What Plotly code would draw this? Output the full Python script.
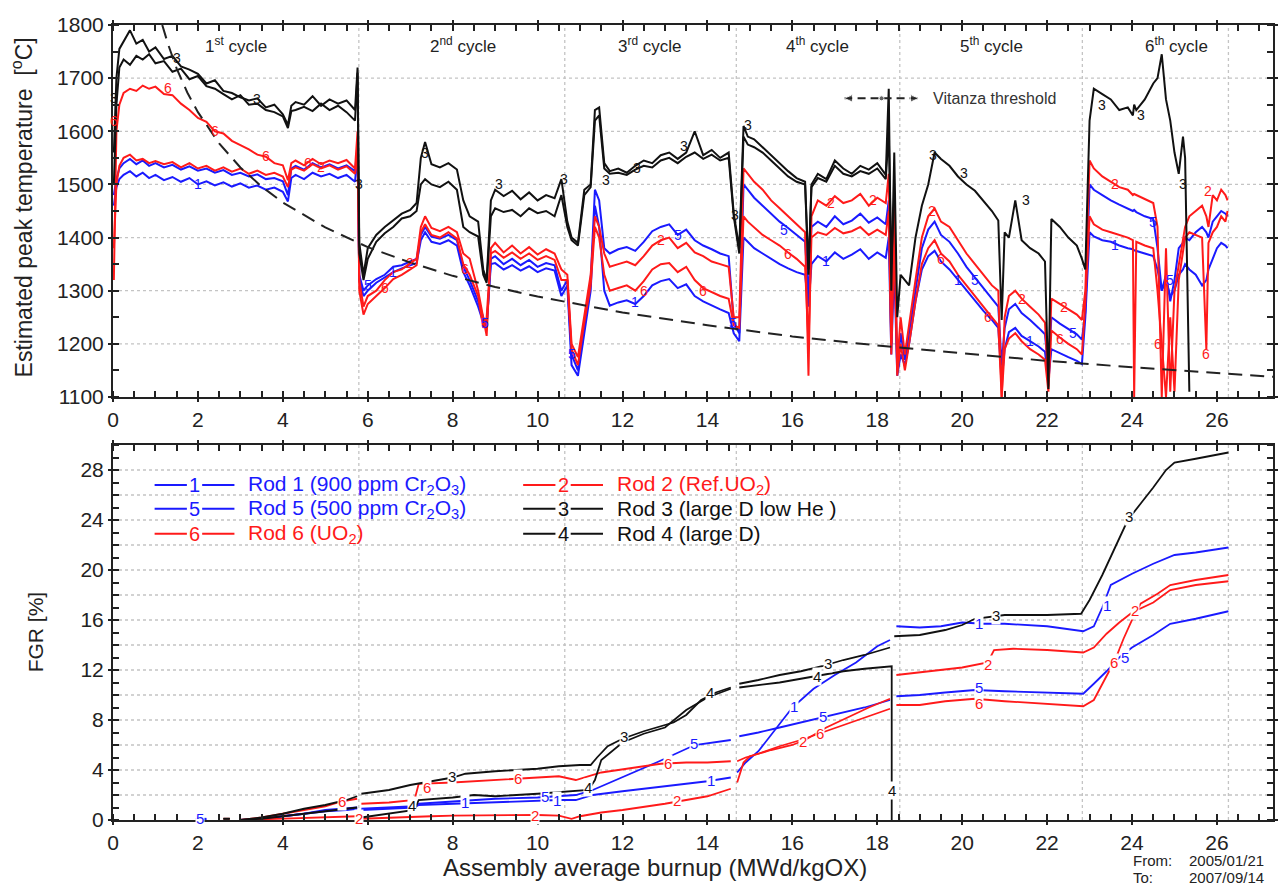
import plotly.graph_objects as go

BLUE = "#1a1aff"
RED = "#ff1a1a"
BLACK = "#111111"
FONT = "Liberation Sans, Arial, Helvetica, sans-serif"

# ---------------- top panel: estimated peak temperature ----------------
BU_TOP = [
    0.02, 0.08, 0.15, 0.25, 0.4, 0.55, 0.7, 0.85, 1.0, 1.2, 1.4, 1.6, 1.8, 2.0, 2.2, 2.4, 2.6, 2.8, 3.0, 3.2,
    3.4, 3.6, 3.8, 4.0, 4.12, 4.2, 4.3, 4.5, 4.7, 4.9, 5.1, 5.3, 5.5, 5.7, 5.76,
    5.8, 5.9, 6.0, 6.2, 6.4, 6.6, 6.8, 7.0, 7.15, 7.25, 7.35, 7.5, 7.7, 7.9, 8.1, 8.25, 8.4, 8.6, 8.72, 8.8,
    8.9, 9.0, 9.2, 9.4, 9.6, 9.8, 10.0, 10.2, 10.4, 10.56,
    10.7, 10.8, 10.95, 11.1, 11.25, 11.35, 11.45, 11.57, 11.7, 11.9, 12.1, 12.3, 12.5, 12.7, 12.9, 13.1,
    13.3, 13.5, 13.7, 13.9, 14.1, 14.3, 14.5, 14.62,
    14.75, 14.85, 14.95, 15.1, 15.3, 15.5, 15.7, 15.9, 16.1, 16.3, 16.38, 16.45, 16.6, 16.8, 17.0, 17.2,
    17.4, 17.6, 17.8, 18.0, 18.2, 18.27, 18.33, 18.4, 18.47, 18.55,
    18.65, 18.75, 18.9, 19.05, 19.2, 19.35, 19.5, 19.7, 19.9, 20.1, 20.3, 20.5, 20.7, 20.85, 20.93, 21.0,
    21.1, 21.25, 21.4, 21.6, 21.8, 21.95, 22.03, 22.1, 22.3, 22.5, 22.7, 22.82,
    22.9, 23.0, 23.1, 23.3, 23.5, 23.7, 23.9, 24.02, 24.05, 24.1, 24.3, 24.5, 24.6, 24.7, 24.8, 24.9,
    25.0, 25.1, 25.2, 25.25, 25.35, 25.5, 25.65, 25.75, 25.8, 25.9, 26.0, 26.1, 26.2, 26.25,
]

T_ROD3 = [
    1560, 1700, 1755, 1770, 1790, 1765, 1772, 1750, 1758, 1736, 1742, 1722, 1716, 1708, 1690, 1696, 1676, 1672, 1664, 1658,
    1662, 1645, 1650, 1632, 1612, 1648, 1655, 1650, 1666, 1648, 1660, 1652, 1658, 1640, 1720,
    1390, 1330, 1380, 1405, 1420, 1432, 1445, 1452, 1465, 1550, 1580, 1538, 1532, 1540, 1528, 1470, 1440, 1430, 1340, 1320,
    1470, 1490, 1478, 1488, 1472, 1485, 1470, 1480, 1474, 1510,
    1430, 1400, 1390, 1490, 1500, 1640, 1645, 1540, 1525, 1530, 1522, 1535, 1545, 1540, 1555, 1560,
    1548, 1560, 1600, 1555, 1565, 1550, 1560, 1445,
    1380, 1610, 1590, 1585, 1570, 1555, 1540, 1525, 1512, 1505, 1340, 1500, 1520, 1510, 1545, 1530,
    1520, 1535, 1528, 1540, 1518, 1680, 1300, 1560, 1250, 1330,
    1320, 1310, 1400, 1460, 1500, 1560, 1548, 1535, 1515, 1500, 1488, 1470, 1450, 1432, 1245, 1410,
    1400, 1470, 1395, 1380, 1370, 1355, 1115, 1435, 1420, 1400, 1385, 1360,
    1340, 1620, 1680, 1670, 1660, 1640, 1645, 1630, 1650, 1640, 1660, 1690, 1700, 1745, 1660, 1620,
    1560, 1520, 1590, 1550, 1110, None, None, None, None, None, None, None, None, None,
]

T_ROD4 = [
    1500, 1650, 1720, 1735, 1725, 1742, 1735, 1745, 1728, 1732, 1712, 1718, 1698, 1704, 1685, 1680, 1670, 1660, 1668, 1650,
    1652, 1640, 1636, 1628, 1606, 1638, 1640, 1646, 1638, 1652, 1640, 1648, 1636, 1620, 1710,
    1370, 1320, 1360, 1392, 1408, 1420, 1436, 1440, 1450, 1500, 1510, 1500, 1495, 1505, 1490, 1420, 1410, 1402, 1330, 1315,
    1440, 1455, 1448, 1452, 1440, 1455, 1446, 1450, 1440, 1480,
    1420, 1395, 1385, 1480, 1495, 1620, 1630, 1530, 1520, 1522, 1518, 1528, 1535, 1532, 1545, 1550,
    1540, 1552, 1560, 1548, 1556, 1545, 1550, 1440,
    1370, 1590, 1575, 1570, 1560, 1545, 1530, 1515, 1505, 1500, 1330, 1495, 1512, 1505, 1535, 1520,
    1515, 1525, 1520, 1530, 1510, 1600, 1350, 1480, None, None,
    None, None, None, None, None, None, None, None, None, None, None, None, None, None, None, None,
    None, None, None, None, None, None, None, None, None, None, None, None,
    None, None, None, None, None, None, None, None, None, None, None, None, None, None, None, None,
    None, None, None, None, None, None, None, None, None, None, None, None, None, None,
]

T_ROD2 = [
    1380, 1500, 1535, 1550, 1556, 1545, 1548, 1540, 1544, 1538, 1542, 1532, 1540, 1530, 1535, 1526, 1532, 1524, 1530, 1520,
    1526, 1518, 1522, 1515, 1495, 1528, 1532, 1526, 1538, 1530, 1536, 1528, 1534, 1520, 1560,
    1320, 1270, 1290, 1300, 1320, 1335, 1340, 1352, 1360, 1420, 1440, 1418, 1412, 1420, 1410, 1370, 1360, 1300, 1250, 1215,
    1380, 1390, 1372, 1385, 1370, 1382, 1368, 1378, 1370, 1340,
    1330, 1200, 1175, 1250, 1330, 1440, 1420, 1370, 1345, 1350, 1355, 1348, 1365, 1385, 1395, 1400,
    1380, 1390, 1372, 1365, 1355, 1350, 1345, 1250,
    1250, 1530, 1520, 1505, 1490, 1470, 1455, 1440, 1425, 1410, 1140, 1440, 1470, 1460, 1478, 1465,
    1470, 1482, 1460, 1475, 1465, 1520, 1200, 1480, 1160, 1250,
    1180, 1240, 1320, 1400, 1440, 1455, 1430, 1420, 1395, 1370, 1350, 1330, 1310, 1300, 1100, 1250,
    1290, 1300, 1285, 1270, 1255, 1240, 1120, 1285, 1275, 1265, 1255, 1245,
    1300, 1545, 1530, 1515, 1505, 1495, 1490, 1480, 1482, 1480, 1472, 1465, 1420, 1100, 1380, 1110,
    1300, 1350, 1400, 1420, 1440, 1450, 1460, 1440, 1420, 1480, 1470, 1490, 1480, 1470,
]

T_ROD6 = [
    1320, 1600, 1650, 1672, 1680, 1676, 1686, 1680, 1684, 1670, 1668, 1652, 1640, 1625, 1618, 1600, 1596, 1582, 1574, 1566,
    1556, 1552, 1540, 1536, 1508, 1540, 1545, 1536, 1548, 1538, 1545, 1540, 1546, 1530, 1600,
    1300, 1255, 1275, 1290, 1305, 1322, 1330, 1340, 1348, 1410, 1425, 1405, 1400, 1410, 1398, 1350, 1330, 1290, 1230, 1250,
    1370, 1375, 1362, 1372, 1360, 1370, 1358, 1365, 1358, 1320,
    1320, 1190, 1160, 1240, 1310, 1420, 1400, 1330, 1300, 1305, 1310, 1300, 1318, 1340, 1350, 1352,
    1335, 1345, 1320, 1305, 1298, 1290, 1285, 1235,
    1230, 1440, 1430, 1420, 1405, 1395, 1385, 1372, 1360, 1345, 1200, 1400, 1410, 1405, 1418, 1408,
    1412, 1420, 1405, 1415, 1405, 1450, 1180, 1400, 1140, 1200,
    1150, 1200, 1280, 1350, 1380, 1395, 1370, 1355, 1330, 1310, 1290, 1270, 1250, 1235, 1100, 1190,
    1210, 1220, 1205, 1190, 1180, 1170, 1110, 1225, 1212, 1200, 1190, 1180,
    1280, 1440, 1425, 1415, 1410, 1405, 1400, 1395, 1100, 1392, 1385, 1380, 1300, 1200, 1100, 1250,
    1110, 1320, 1380, 1400, 1410, 1405, 1400, 1190, 1390, 1410, 1420, 1440, 1430, 1450,
]

T_ROD5 = [
    1480, 1510, 1530, 1540, 1548, 1538, 1545, 1535, 1540, 1532, 1537, 1528, 1534, 1526, 1530, 1522, 1527, 1518, 1522, 1515,
    1519, 1510, 1512, 1506, 1480, 1530, 1535, 1528, 1540, 1532, 1538, 1530, 1536, 1525, 1570,
    1330, 1300, 1310, 1322, 1330, 1345, 1348, 1355, 1360, 1405, 1420, 1402, 1398, 1405, 1395, 1345, 1320, 1280, 1250, 1230,
    1360, 1365, 1350, 1360, 1348, 1358, 1345, 1352, 1348, 1300,
    1320, 1180, 1150, 1230, 1320, 1490, 1470, 1380, 1370, 1378, 1382, 1375, 1392, 1412, 1420, 1425,
    1405, 1415, 1395, 1385, 1378, 1370, 1365, 1240,
    1220, 1500, 1490, 1475, 1460, 1445, 1430, 1418, 1405, 1392, 1290, 1420, 1430, 1420, 1440, 1425,
    1432, 1445, 1428, 1438, 1425, 1470, 1200, 1420, 1150, 1220,
    1170, 1220, 1300, 1380, 1415, 1430, 1405, 1392, 1370, 1345, 1325, 1305, 1285, 1270, 1160, 1230,
    1265, 1275, 1258, 1245, 1230, 1218, 1150, 1250, 1238, 1228, 1218, 1208,
    1260, 1500, 1490, 1480, 1470, 1462, 1455, 1450, 1452, 1448, 1440, 1435, 1380, 1300, 1330, 1280,
    1320, 1380, 1390, 1400, 1395, 1410, 1420, 1410, 1400, 1430, 1440, 1450, 1445, 1440,
]

T_ROD1 = [
    1460, 1495, 1510, 1518, 1525, 1515, 1522, 1512, 1518, 1508, 1514, 1505, 1512, 1500, 1506, 1498, 1504, 1496, 1502, 1494,
    1498, 1490, 1494, 1486, 1468, 1512, 1518, 1510, 1522, 1515, 1520, 1512, 1518, 1505, 1560,
    1320, 1290, 1300, 1315, 1325, 1335, 1342, 1348, 1352, 1395, 1410, 1392, 1388, 1395, 1385, 1335, 1310, 1270, 1240, 1235,
    1350, 1352, 1340, 1348, 1338, 1346, 1335, 1342, 1338, 1290,
    1310, 1160, 1140, 1220, 1300, 1460, 1420, 1300, 1272, 1278, 1282, 1275, 1290, 1310, 1318, 1322,
    1305, 1312, 1290, 1280, 1272, 1265, 1258, 1220,
    1205, 1400, 1392, 1380, 1370, 1360, 1350, 1342, 1335, 1330, 1270, 1350, 1365, 1355, 1372, 1360,
    1368, 1378, 1360, 1372, 1362, 1400, 1180, 1350, 1140, 1180,
    1160, 1200, 1280, 1340, 1365, 1375, 1355, 1340, 1320, 1300, 1280, 1262, 1245, 1230, 1130, 1190,
    1222, 1230, 1215, 1205, 1195, 1185, 1130, 1190, 1182, 1175, 1168, 1162,
    1250, 1410, 1402, 1395, 1392, 1385, 1380, 1378, 1376, 1375, 1370, 1365, 1340, 1300, 1320, 1290,
    1300, 1330, 1340, 1350, 1340, 1330, 1310, 1320, 1340, 1360, 1380, 1390, 1385, 1380,
]

# Vitanza threshold (dashed curve)
VIT_BU = [1.16, 1.3, 1.5, 1.75, 2.0, 2.5, 3.0, 3.5, 4.0, 5.0, 6.0, 7.0, 8.0, 9.0, 10.0,
          12.0, 14.0, 16.0, 18.0, 20.0, 22.0, 24.0, 26.0, 27.32]
VIT_T = [1800, 1763, 1718, 1673, 1636, 1577, 1532, 1496, 1466, 1419, 1382, 1353, 1328, 1307, 1289,
         1259, 1235, 1214, 1197, 1182, 1168, 1156, 1145, 1138]

CYCLE_ENDS = [5.79, 10.64, 14.68, 18.53, 22.83, 26.27]
CYCLE_LABELS = ["1<sup>st</sup> cycle", "2<sup>nd</sup> cycle", "3<sup>rd</sup> cycle",
                "4<sup>th</sup> cycle", "5<sup>th</sup> cycle", "6<sup>th</sup> cycle"]
CYCLE_LABEL_X = [2.9, 8.25, 12.65, 16.6, 20.7, 25.05]

# ---------------- bottom panel: fission gas release ----------------
FGR_BU1 = [2.0, 2.2, None, 3.0, 3.5, 4.0, 4.5, 5.0, 5.5, 5.75, None, 5.85, 6.5, 7.1, 7.2, 8.0, 9.0, 10.0, 10.5, 10.9,
           11.3, 12.0, 13.0, 14.0, 14.55, None, 14.7, 14.9, 15.2, 15.5, 16.0, 16.5, 17.0, 17.5, 18.0, 18.3, None,
           18.45, 19.0, 19.5, 20.0, 20.5, 21.0, 22.0, 22.5, 22.85, 23.1, 23.3, 23.5, 24.0, 24.5, 25.0, 25.5, 26.27]
FGR_1 = [0.05, 0.05, None, 0.0, 0.1, 0.3, 0.5, 0.7, 0.8, 0.9, None, 0.8, 0.9, 1.0, 1.2, 1.3, 1.4, 1.5, 1.6, 1.6,
         2.0, 2.3, 2.7, 3.1, 3.4, None, 3.8, 4.6, 5.5, 6.8, 9.0, 10.5, 11.6, 12.6, 13.9, 14.4, None,
         15.5, 15.4, 15.5, 15.8, 15.7, 15.7, 15.5, 15.3, 15.1, 15.5, 17.0, 18.8, 19.7, 20.5, 21.2, 21.4, 21.8]

FGR_BU5 = [1.95, 2.2, None, 3.0, 3.5, 4.0, 4.5, 5.0, 5.5, 5.75, None, 5.85, 6.5, 7.1, 7.2, 8.0, 9.0, 10.0, 10.5, 10.9,
           11.3, 12.0, 12.8, 13.7, 14.2, 14.55, None, 14.75, 15.2, 15.7, 16.2, 16.7, 17.2, 17.7, 18.3, None,
           18.45, 19.0, 19.6, 20.3, 21.0, 22.0, 22.85, 23.1, 23.4, 23.7, 24.0, 24.5, 24.9, 25.5, 26.27]
FGR_5 = [0.1, 0.1, None, 0.0, 0.1, 0.3, 0.5, 0.8, 0.9, 1.0, None, 0.9, 1.0, 1.1, 1.3, 1.5, 1.7, 1.8, 1.9, 2.0,
         2.4, 3.4, 4.6, 6.0, 6.2, 6.4, None, 6.7, 7.0, 7.4, 7.8, 8.2, 8.6, 9.0, 9.6, None,
         9.9, 10.0, 10.2, 10.4, 10.3, 10.2, 10.1, 10.9, 11.9, 13.0, 13.8, 14.8, 15.7, 16.1, 16.7]

FGR_BU2 = [2.6, 2.75, None, 3.0, 3.5, 4.0, 4.5, 5.0, 5.5, 5.75, None, 5.85, 6.5, 7.0, 7.5, 8.0, 9.0, 10.0, 10.5, 10.8,
           11.0, 11.5, 12.0, 13.0, 14.0, 14.55, None, 14.7, 14.85, 15.0, 15.5, 16.0, 16.3, 16.8, 17.3, 17.8, 18.3, None,
           18.45, 19.0, 19.5, 20.0, 20.6, 20.75, 21.2, 22.0, 22.85, 23.1, 23.4, 23.7, 24.0, 24.5, 24.9, 25.5, 26.27]
FGR_2 = [0.1, 0.1, None, 0.0, 0.05, 0.1, 0.15, 0.2, 0.25, 0.3, None, 0.1, 0.2, 0.25, 0.3, 0.35, 0.4, 0.4, 0.35, 0.1,
         0.3, 0.6, 0.8, 1.3, 1.9, 2.5, None, 3.0, 4.6, 5.1, 5.6, 6.0, 6.4, 7.4, 8.2, 9.0, 9.7, None,
         11.6, 11.8, 12.0, 12.2, 12.6, 13.6, 13.7, 13.6, 13.4, 13.8, 14.9, 15.8, 16.6, 17.4, 18.4, 18.8, 19.1]

FGR_BU6 = [3.0, 3.5, 4.0, 4.5, 5.0, 5.4, 5.75, None, 5.85, 6.5, 7.1, 7.2, 8.0, 9.0, 10.0, 10.5, 10.9, 11.5, 12.3,
           12.9, 13.5, 14.0, 14.55, None, 14.7, 14.9, 15.2, 15.7, 16.2, 16.7, 17.2, 17.8, 18.3, None,
           18.45, 19.0, 19.6, 20.3, 21.0, 22.0, 22.85, 23.1, 23.4, 23.6, 23.8, 24.0, 24.2, 24.6, 24.9, 25.5, 26.27]
FGR_6 = [0.0, 0.2, 0.5, 0.8, 1.1, 1.5, 1.7, None, 1.3, 1.4, 1.6, 2.9, 3.0, 3.2, 3.4, 3.5, 3.2, 3.8, 4.2,
         4.5, 4.6, 4.6, 4.7, None, 4.7, 5.0, 5.3, 5.9, 6.4, 7.0, 7.6, 8.3, 8.9, None,
         9.2, 9.2, 9.5, 9.7, 9.5, 9.3, 9.1, 9.6, 11.5, 12.8, 14.5, 16.0, 17.3, 18.1, 18.8, 19.2, 19.6]

FGR_BU3 = [2.6, 2.75, None, 3.0, 3.5, 4.0, 4.5, 5.0, 5.5, 5.75, None, 5.85, 6.5, 7.0, 7.5, 8.0, 8.3, 9.0, 10.0, 10.5,
           11.0, 11.25, 11.4, 11.65, 12.0, 12.5, 13.2, 13.5, 13.85, 14.2, 14.55, None, 14.75, 15.2, 15.7, 16.2, 16.7,
           17.2, 17.7, 18.3, None, 18.4, 19.0, 19.6, 20.0, 20.3, 21.0, 22.0, 22.8, 23.0, 23.3, 23.6, 23.9, 24.2,
           24.5, 24.8, 25.0, 25.5, 26.27]
FGR_3 = [0.1, 0.1, None, 0.0, 0.2, 0.5, 0.9, 1.2, 1.6, 1.9, None, 2.1, 2.4, 2.8, 3.1, 3.4, 3.7, 3.9, 4.1, 4.3,
         4.4, 4.4, 5.0, 5.9, 6.5, 7.1, 7.8, 8.4, 9.6, 10.2, 10.6, None, 10.9, 11.2, 11.6, 11.9, 12.3,
         12.8, 13.2, 13.8, None, 14.7, 14.8, 15.2, 15.6, 16.1, 16.4, 16.4, 16.5, 17.6, 19.6, 21.8, 24.0, 25.3,
         26.6, 28.0, 28.6, 28.9, 29.4]

FGR_BU4 = [2.6, 2.75, None, 3.0, 3.5, 4.0, 4.5, 5.0, 5.5, 5.75, None, 5.85, 6.5, 7.1, 7.2, 8.0, 8.5, 9.0, 10.0, 10.5,
           11.0, 11.2, 11.35, 11.5, 12.0, 12.5, 13.0, 13.5, 14.0, 14.55, None, 14.75, 15.2, 15.7, 16.2, 16.7,
           17.2, 17.7, 18.3, 18.34, 18.34]
FGR_4 = [0.1, 0.1, None, 0.0, 0.1, 0.3, 0.5, 0.7, 0.9, 1.0, None, 0.2, 0.5, 0.8, 1.6, 1.8, 2.0, 1.9, 2.1, 2.2,
         2.3, 2.4, 3.2, 4.8, 6.2, 6.9, 7.4, 8.8, 9.8, 10.5, None, 10.6, 10.8, 11.0, 11.3, 11.6,
         11.9, 12.1, 12.3, 12.3, 0.0]

# curve number labels (burnup, value)
TOP_LABELS = {
    "3": [(0.03, 1662), (1.5, 1738), (3.4, 1660), (5.8, 1500), (7.35, 1560), (9.1, 1500), (10.62, 1510),
          (11.62, 1508), (12.35, 1530), (13.45, 1572), (14.65, 1442), (14.95, 1612), (19.32, 1556),
          (20.05, 1521), (21.5, 1470), (23.3, 1650), (24.2, 1630), (25.2, 1500)],
    "6": [(0.03, 1620), (1.3, 1682), (2.4, 1600), (3.6, 1553), (4.6, 1540), (6.4, 1305), (8.3, 1340),
          (12.5, 1300), (13.9, 1300), (15.9, 1370), (19.5, 1360), (20.6, 1250), (22.3, 1210), (24.6, 1200),
          (25.75, 1180)],
    "2": [(4.9, 1532), (7.0, 1352), (12.9, 1395), (16.9, 1465), (17.9, 1470), (19.3, 1450), (21.4, 1285),
          (22.4, 1270), (23.6, 1500), (25.8, 1488)],
    "5": [(6.0, 1310), (8.75, 1240), (10.8, 1180), (13.3, 1405), (14.6, 1240), (15.8, 1415), (20.3, 1320),
          (22.6, 1220), (24.5, 1430), (24.9, 1320)],
    "1": [(2.0, 1500), (6.6, 1335), (12.3, 1278), (16.8, 1355), (19.9, 1320), (21.6, 1205), (23.6, 1386)],
}
BOT_LABELS = {
    "3": [(7.98, 3.45), (12.04, 6.7), (16.85, 12.5), (20.8, 16.35), (23.92, 24.3)],
    "4": [(7.05, 1.2), (11.18, 2.6), (14.05, 10.2), (16.58, 11.45), (18.34, 2.4)],
    "1": [(8.3, 1.4), (10.45, 1.55), (14.08, 3.2), (16.03, 9.1), (20.4, 15.75), (23.4, 17.2)],
    "5": [(2.05, 0.12), (10.17, 1.85), (13.68, 6.1), (16.73, 8.3), (20.4, 10.6), (23.84, 13.0)],
    "2": [(5.8, 0.12), (9.93, 0.4), (13.29, 1.6), (16.26, 6.3), (20.6, 12.45), (24.08, 16.8)],
    "6": [(5.4, 1.45), (7.4, 2.6), (9.54, 3.3), (13.06, 4.5), (16.65, 6.9), (20.4, 9.3), (23.57, 12.6)],
}
LABEL_COLORS = {"1": BLUE, "5": BLUE, "2": RED, "6": RED, "3": BLACK, "4": BLACK}

LEGEND_ROWS = [
    ("1", "Rod 1 (900 ppm Cr<sub>2</sub>O<sub>3</sub>)", BLUE, 0, 26.8),
    ("5", "Rod 5 (500 ppm Cr<sub>2</sub>O<sub>3</sub>)", BLUE, 0, 24.9),
    ("6", "Rod 6 (UO<sub>2</sub>)", RED, 0, 22.9),
    ("2", "Rod 2 (Ref.UO<sub>2</sub>)", RED, 1, 26.8),
    ("3", "Rod 3 (large D low He )", BLACK, 1, 24.9),
    ("4", "Rod 4 (large D)", BLACK, 1, 22.9),
]

# ---------------- figure ----------------
W, H = 1282, 885
ML, MR, MT, MB = 113, 4, 25, 65
PW, PH = W - ML - MR, H - MT - MB
XMAX = 27.32


def px(x):
    return (x - ML) / PW


def py(y):
    return (H - MB - y) / PH


TOP_DOM = [py(397), 1.0]
BOT_DOM = [0.0, py(445)]

fig = go.Figure()

top_series = [(T_ROD1, BLUE), (T_ROD5, BLUE), (T_ROD6, RED), (T_ROD2, RED), (T_ROD4, BLACK), (T_ROD3, BLACK)]
for ys, col in top_series:
    fig.add_trace(go.Scatter(x=BU_TOP, y=ys, mode="lines", line=dict(color=col, width=2.0),
                             connectgaps=False, xaxis="x", yaxis="y", hoverinfo="skip"))

fig.add_trace(go.Scatter(x=VIT_BU, y=VIT_T, mode="lines",
                         line=dict(color="#222222", width=2, dash="14px,8px"),
                         xaxis="x", yaxis="y", hoverinfo="skip"))

# Vitanza legend sample
fig.add_trace(go.Scatter(x=[17.23, 18.1, 18.97], y=[1662, 1662, 1662], mode="lines+markers",
                         line=dict(color="#222222", width=2, dash="8px,5px"),
                         marker=dict(symbol=["arrow-left", "circle", "arrow-right"], size=[8, 5, 8],
                                     color="#222222"),
                         xaxis="x", yaxis="y", hoverinfo="skip"))

bot_series = [(FGR_BU1, FGR_1, BLUE), (FGR_BU5, FGR_5, BLUE), (FGR_BU2, FGR_2, RED), (FGR_BU6, FGR_6, RED),
              (FGR_BU4, FGR_4, BLACK), (FGR_BU3, FGR_3, BLACK)]
for xs, ys, col in bot_series:
    fig.add_trace(go.Scatter(x=xs, y=ys, mode="lines", line=dict(color=col, width=1.8),
                             connectgaps=False, xaxis="x2", yaxis="y2", hoverinfo="skip"))

shapes = []
grid_style = dict(color="#c4c4c4", width=1.3, dash="dot")
for t in range(1200, 1800, 100):
    shapes.append(dict(type="line", xref="x", yref="y", x0=0, x1=XMAX, y0=t, y1=t, line=grid_style, layer="below"))
for g in range(2, 30, 2):
    shapes.append(dict(type="line", xref="x2", yref="y2", x0=0, x1=XMAX, y0=g, y1=g, line=grid_style, layer="below"))
for b in CYCLE_ENDS:
    shapes.append(dict(type="line", xref="x", yref="y", x0=b, x1=b, y0=1100, y1=1800, line=grid_style, layer="below"))
    shapes.append(dict(type="line", xref="x2", yref="y2", x0=b, x1=b, y0=0, y1=30, line=grid_style, layer="below"))

annotations = []
for lab, xc in zip(CYCLE_LABELS, CYCLE_LABEL_X):
    annotations.append(dict(x=xc, y=1762, xref="x", yref="y", text=lab, showarrow=False,
                            xanchor="center", yanchor="middle",
                            font=dict(size=17, color="#222222", family=FONT)))

annotations.append(dict(x=19.27, y=1662, xref="x", yref="y", text="Vitanza threshold", showarrow=False,
                        xanchor="left", yanchor="middle", font=dict(size=16, color="#333333", family=FONT)))

for key, pts in TOP_LABELS.items():
    for (bx, by) in pts:
        annotations.append(dict(x=bx, y=by, xref="x", yref="y", text=key, showarrow=False,
                                xanchor="center", yanchor="middle",
                                font=dict(size=14, color=LABEL_COLORS[key], family=FONT)))

for key, pts in BOT_LABELS.items():
    for (bx, by) in pts:
        annotations.append(dict(x=bx, y=by, xref="x2", yref="y2", text=key, showarrow=False,
                                xanchor="center", yanchor="middle", bgcolor="white", borderpad=0,
                                font=dict(size=15, color=LABEL_COLORS[key], family=FONT)))

# legend block inside the FGR panel
for num, txt, col, colno, yv in LEGEND_ROWS:
    x0 = 0.98 if colno == 0 else 9.66
    xm = x0 + 0.94
    x1 = x0 + 1.88
    shapes.append(dict(type="line", xref="x2", yref="y2", x0=x0, x1=xm - 0.18, y0=yv, y1=yv,
                       line=dict(color=col, width=2)))
    shapes.append(dict(type="line", xref="x2", yref="y2", x0=xm + 0.18, x1=x1, y0=yv, y1=yv,
                       line=dict(color=col, width=2)))
    annotations.append(dict(x=xm, y=yv, xref="x2", yref="y2", text=num, showarrow=False,
                            xanchor="center", yanchor="middle",
                            font=dict(size=20, color=col, family=FONT)))
    annotations.append(dict(x=x1 + 0.28, y=yv, xref="x2", yref="y2", text=txt, showarrow=False,
                            xanchor="left", yanchor="middle", font=dict(size=21, color=col, family=FONT)))

# axis titles and footer
annotations.append(dict(x=px(22), y=py(207), xref="paper", yref="paper",
                        text="Estimated peak temperature  [<sup>o</sup>C]", textangle=-90, showarrow=False,
                        xanchor="center", yanchor="middle",
                        font=dict(size=23, color="#222222", family=FONT)))
annotations.append(dict(x=px(35), y=py(632), xref="paper", yref="paper", text="FGR [%]", textangle=-90,
                        xanchor="center", yanchor="middle",
                        showarrow=False, font=dict(size=21, color="#222222", family=FONT)))
annotations.append(dict(x=px(657), y=py(867), xref="paper", yref="paper",
                        text="Assembly average burnup (MWd/kgOX)", showarrow=False,
                        xanchor="center", yanchor="middle",
                        font=dict(size=24, color="#222222", family=FONT)))
footer_style = dict(size=15, color="#222222", family=FONT)
annotations.append(dict(x=px(1135), y=py(860), xref="paper", yref="paper", text="From:", xanchor="left",
                        yanchor="middle", showarrow=False, font=footer_style))
annotations.append(dict(x=px(1271), y=py(860), xref="paper", yref="paper", text="2005/01/21", xanchor="right",
                        yanchor="middle", showarrow=False, font=footer_style))
annotations.append(dict(x=px(1135), y=py(877), xref="paper", yref="paper", text="To:", xanchor="left",
                        yanchor="middle", showarrow=False, font=footer_style))
annotations.append(dict(x=px(1271), y=py(877), xref="paper", yref="paper", text="2007/09/14", xanchor="right",
                        yanchor="middle", showarrow=False, font=footer_style))

axis_common = dict(showline=True, linewidth=2, linecolor="#222222", mirror="allticks", showgrid=False,
                   zeroline=False, ticks="outside", ticklen=3, tickwidth=2, tickcolor="#222222",
                   tickfont=dict(size=21, color="#222222", family=FONT))
minor_common = dict(ticks="inside", ticklen=6, tickwidth=1.5, tickcolor="#222222")

fig.update_layout(
    width=W, height=H, autosize=False,
    margin=dict(l=ML, r=MR, t=MT, b=MB),
    paper_bgcolor="white", plot_bgcolor="white",
    showlegend=False,
    font=dict(family=FONT, color="#222222"),
    xaxis=dict(domain=[0, 1], anchor="y", range=[0, XMAX], dtick=2, tick0=0,
               minor=dict(dtick=0.5, **minor_common), **axis_common),
    yaxis=dict(domain=TOP_DOM, anchor="x", range=[1100, 1800], dtick=100,
               minor=dict(dtick=50, **minor_common), **axis_common),
    xaxis2=dict(domain=[0, 1], anchor="y2", range=[0, XMAX], dtick=2, tick0=0,
                minor=dict(dtick=0.5, **minor_common), **axis_common),
    yaxis2=dict(domain=BOT_DOM, anchor="x2", range=[0, 30], tickvals=list(range(0, 29, 4)),
                minor=dict(dtick=1, **minor_common), **axis_common),
    shapes=shapes,
    annotations=annotations,
)

fig.write_html("out.html")
